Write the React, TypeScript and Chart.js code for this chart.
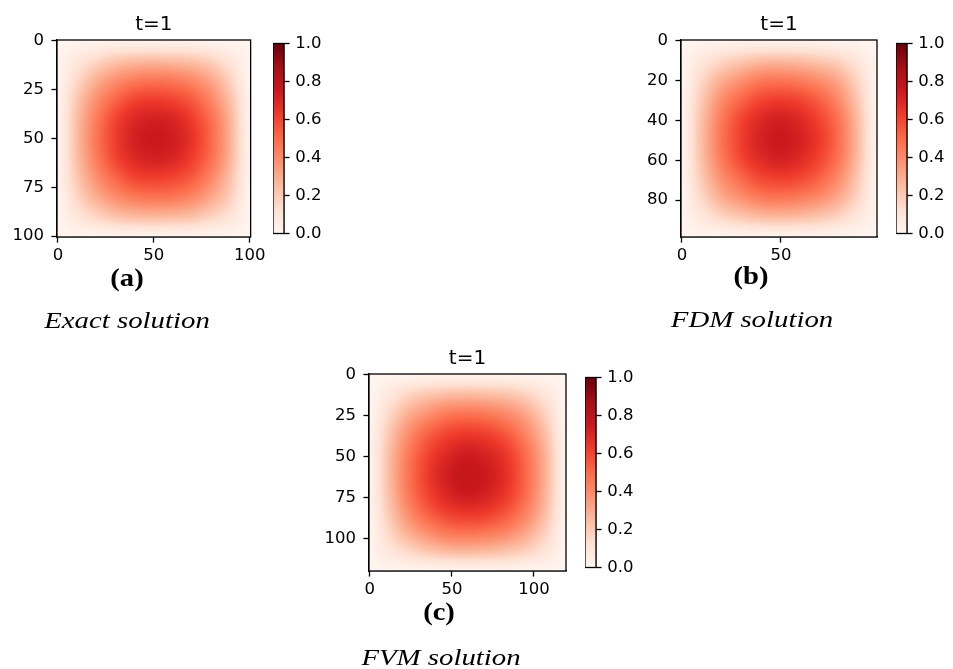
import React, { useEffect, useRef } from 'react';
import { Chart, registerables } from 'chart.js';

Chart.register(...registerables);

// ---------------- data ----------------
const panelTitle = 't=1';
const colorbarRange = [0, 1];
const colorbarTicks = [0, 0.2, 0.4, 0.6, 0.8, 1.0];
const redsStops = ['#fff5f0', '#fee0d2', '#fcbba1', '#fc9272', '#fb6a4a', '#ef3b2c', '#cb181d', '#a50f15', '#67000d'];

// (a) Exact solution
const coordsA = [0, 10, 20, 30, 40, 50, 60, 70, 80, 90, 100];
const extentA = [-0.5, 100.5];
const xTicksA = [0, 50, 100];
const yTicksA = [0, 25, 50, 75, 100];
const fieldA = [
  [0.00, 0.01, 0.01, 0.02, 0.02, 0.02, 0.02, 0.02, 0.01, 0.01, 0.00],
  [0.01, 0.08, 0.15, 0.21, 0.24, 0.25, 0.24, 0.22, 0.17, 0.09, 0.01],
  [0.01, 0.15, 0.28, 0.38, 0.44, 0.46, 0.45, 0.40, 0.31, 0.17, 0.01],
  [0.02, 0.21, 0.38, 0.51, 0.60, 0.62, 0.60, 0.54, 0.41, 0.23, 0.02],
  [0.02, 0.24, 0.44, 0.60, 0.69, 0.72, 0.70, 0.62, 0.48, 0.27, 0.02],
  [0.02, 0.25, 0.46, 0.62, 0.72, 0.75, 0.73, 0.65, 0.50, 0.28, 0.02],
  [0.02, 0.24, 0.44, 0.60, 0.69, 0.72, 0.70, 0.62, 0.48, 0.27, 0.02],
  [0.02, 0.21, 0.38, 0.51, 0.60, 0.62, 0.60, 0.54, 0.41, 0.23, 0.02],
  [0.01, 0.16, 0.29, 0.39, 0.45, 0.47, 0.46, 0.41, 0.31, 0.18, 0.01],
  [0.01, 0.09, 0.16, 0.22, 0.25, 0.26, 0.25, 0.23, 0.17, 0.10, 0.01],
  [0.00, 0.01, 0.01, 0.02, 0.02, 0.02, 0.02, 0.02, 0.01, 0.01, 0.00],
];

// (b) FDM solution
const coordsB = [0, 9.8, 19.6, 29.4, 39.2, 49, 58.8, 68.6, 78.4, 88.2, 98];
const extentB = [-0.5, 98.5];
const xTicksB = [0, 50];
const yTicksB = [0, 20, 40, 60, 80];
const fieldB = [
  [0.00, 0.01, 0.01, 0.02, 0.02, 0.02, 0.02, 0.02, 0.01, 0.01, 0.00],
  [0.01, 0.08, 0.15, 0.20, 0.24, 0.25, 0.24, 0.21, 0.17, 0.09, 0.01],
  [0.01, 0.15, 0.28, 0.37, 0.44, 0.46, 0.44, 0.39, 0.31, 0.17, 0.01],
  [0.02, 0.20, 0.38, 0.50, 0.59, 0.62, 0.60, 0.53, 0.41, 0.22, 0.02],
  [0.02, 0.23, 0.44, 0.59, 0.68, 0.72, 0.69, 0.61, 0.48, 0.26, 0.02],
  [0.02, 0.24, 0.46, 0.61, 0.71, 0.75, 0.72, 0.64, 0.50, 0.27, 0.02],
  [0.02, 0.23, 0.44, 0.59, 0.68, 0.72, 0.69, 0.61, 0.48, 0.26, 0.02],
  [0.02, 0.20, 0.38, 0.50, 0.59, 0.62, 0.60, 0.53, 0.41, 0.22, 0.02],
  [0.01, 0.15, 0.29, 0.38, 0.45, 0.47, 0.45, 0.40, 0.31, 0.17, 0.01],
  [0.01, 0.08, 0.16, 0.21, 0.25, 0.26, 0.25, 0.22, 0.17, 0.09, 0.01],
  [0.00, 0.01, 0.01, 0.02, 0.02, 0.02, 0.02, 0.02, 0.01, 0.01, 0.00],
];

// (c) FVM solution
const coordsC = [0, 11.9, 23.8, 35.7, 47.6, 59.5, 71.4, 83.3, 95.2, 107.1, 119];
const extentC = [-0.5, 119.5];
const xTicksC = [0, 50, 100];
const yTicksC = [0, 25, 50, 75, 100];
const fieldC = [
  [0.00, 0.01, 0.01, 0.02, 0.02, 0.02, 0.02, 0.02, 0.01, 0.01, 0.00],
  [0.01, 0.08, 0.16, 0.21, 0.24, 0.25, 0.24, 0.22, 0.17, 0.09, 0.01],
  [0.01, 0.15, 0.29, 0.38, 0.45, 0.47, 0.45, 0.40, 0.31, 0.17, 0.01],
  [0.02, 0.21, 0.39, 0.52, 0.60, 0.63, 0.61, 0.54, 0.41, 0.23, 0.02],
  [0.02, 0.24, 0.45, 0.60, 0.69, 0.73, 0.70, 0.63, 0.48, 0.27, 0.02],
  [0.02, 0.25, 0.47, 0.63, 0.73, 0.77, 0.74, 0.66, 0.50, 0.28, 0.02],
  [0.02, 0.24, 0.46, 0.61, 0.71, 0.75, 0.72, 0.64, 0.49, 0.27, 0.02],
  [0.02, 0.21, 0.40, 0.54, 0.62, 0.65, 0.63, 0.56, 0.43, 0.24, 0.02],
  [0.01, 0.16, 0.30, 0.40, 0.47, 0.49, 0.47, 0.42, 0.32, 0.18, 0.01],
  [0.01, 0.09, 0.16, 0.22, 0.26, 0.27, 0.26, 0.23, 0.18, 0.10, 0.01],
  [0.00, 0.01, 0.01, 0.02, 0.02, 0.02, 0.02, 0.02, 0.01, 0.01, 0.00],
];

const labelA = '(a)';
const labelB = '(b)';
const labelC = '(c)';
const captionA = 'Exact solution';
const captionB = 'FDM solution';
const captionC = 'FVM solution';

// ---------------- helpers ----------------
const TICK_FONT = { family: '"DejaVu Sans"', size: 16.5 };
const LINE = 1.3;
const TICK_LEN = 5.6;

function hexRgb(h: string) {
  return [parseInt(h.slice(1, 3), 16), parseInt(h.slice(3, 5), 16), parseInt(h.slice(5, 7), 16)];
}
const redsRgb = redsStops.map(hexRgb);
function reds(v: number) {
  const n = redsRgb.length;
  const t = Math.min(1, Math.max(0, v)) * (n - 1);
  const i = Math.min(n - 2, Math.floor(t));
  const f = t - i;
  const a = redsRgb[i], b = redsRgb[i + 1];
  return [a[0] + (b[0] - a[0]) * f, a[1] + (b[1] - a[1]) * f, a[2] + (b[2] - a[2]) * f];
}

// display resampling (like imshow's bicubic interpolation)
function cubic(p0: number, p1: number, p2: number, p3: number, t: number) {
  return 0.5 * (2 * p1 + (-p0 + p2) * t + (2 * p0 - 5 * p1 + 4 * p2 - p3) * t * t + (-p0 + 3 * p1 - 3 * p2 + p3) * t * t * t);
}
function sampleField(field: number[][], fi: number, fj: number) {
  const m = field.length, n = field[0].length;
  const ci = Math.max(0, Math.min(n - 1, fi));
  const cj = Math.max(0, Math.min(m - 1, fj));
  const i1 = Math.min(n - 2, Math.floor(ci));
  const j1 = Math.min(m - 2, Math.floor(cj));
  const ti = ci - i1, tj = cj - j1;
  const cl = (k: number, lim: number) => Math.max(0, Math.min(lim - 1, k));
  const rows: number[] = [];
  for (let dj = -1; dj <= 2; dj++) {
    const row = field[cl(j1 + dj, m)];
    rows.push(cubic(row[cl(i1 - 1, n)], row[i1], row[i1 + 1], row[cl(i1 + 2, n)], ti));
  }
  return cubic(rows[0], rows[1], rows[2], rows[3], tj);
}

function heatmapPlugin(coords: number[], field: number[][]) {
  return {
    id: 'heatmap',
    beforeDatasetsDraw(chart: any) {
      const { ctx, chartArea: a, scales } = chart;
      const xs = scales.x, ys = scales.y;
      const n = coords.length;
      const step = (coords[n - 1] - coords[0]) / (n - 1);
      const x0 = Math.round(a.left), y0 = Math.round(a.top);
      const w = Math.round(a.right) - x0, h = Math.round(a.bottom) - y0;
      const img = ctx.createImageData(w, h);
      for (let py = 0; py < h; py++) {
        const fj = (ys.getValueForPixel(y0 + py + 0.5) - coords[0]) / step;
        for (let px = 0; px < w; px++) {
          const fi = (xs.getValueForPixel(x0 + px + 0.5) - coords[0]) / step;
          const [r, g, b] = reds(sampleField(field, fi, fj));
          const k = (py * w + px) * 4;
          img.data[k] = Math.round(r);
          img.data[k + 1] = Math.round(g);
          img.data[k + 2] = Math.round(b);
          img.data[k + 3] = 255;
        }
      }
      ctx.putImageData(img, x0, y0);
    },
  };
}

function framePlugin(title?: string) {
  return {
    id: 'frame',
    afterDatasetsDraw(chart: any) {
      const { ctx, chartArea: a } = chart;
      ctx.save();
      ctx.strokeStyle = '#000';
      ctx.lineWidth = LINE;
      ctx.strokeRect(a.left, a.top, a.right - a.left, a.bottom - a.top);
      if (title) {
        ctx.fillStyle = '#000';
        ctx.font = '20px "DejaVu Sans"';
        ctx.textAlign = 'center';
        ctx.textBaseline = 'alphabetic';
        ctx.fillText(title, (a.left + a.right) / 2, a.top - 10);
      }
      ctx.restore();
    },
  };
}

function axisStyle(ticks: number[], fmt: (v: number) => string, pad: number) {
  return {
    afterBuildTicks: (s: any) => {
      s.ticks = ticks.map((v) => ({ value: v }));
    },
    grid: { display: true, drawOnChartArea: false, drawTicks: true, tickLength: TICK_LEN, tickWidth: LINE, tickColor: '#000', color: '#000' },
    border: { display: true, color: '#000', width: LINE },
    ticks: { color: '#000', font: TICK_FONT, padding: pad, maxRotation: 0, autoSkip: false, callback: (v: any) => fmt(Number(v)) },
  };
}

// layout constants
const LW = 56; // y-axis box width
const TP = 40; // room above plot for title
const BH = 34; // x-axis box height
const RP = 16; // right room for last x label
const CBW = 46; // colorbar tick label box
const CBP = 12;

type PanelProps = {
  geom: { L: number; T: number; W: number; H: number; cbL: number; cbW: number };
  coords: number[];
  field: number[][];
  extent: number[];
  xTicks: number[];
  yTicks: number[];
};

function Panel({ geom, coords, field, extent, xTicks, yTicks }: PanelProps) {
  const heatRef = useRef<HTMLCanvasElement>(null);
  const cbRef = useRef<HTMLCanvasElement>(null);

  useEffect(() => {
    const heat = new Chart(heatRef.current!, {
      type: 'scatter',
      data: { datasets: [{ data: [], pointRadius: 0 }] },
      options: {
        animation: false,
        responsive: false,
        devicePixelRatio: 1,
        layout: { padding: { top: TP, right: RP, left: 0, bottom: 0 } },
        plugins: { legend: { display: false }, tooltip: { enabled: false }, title: { display: false } },
        scales: {
          x: {
            type: 'linear',
            position: 'bottom',
            min: extent[0],
            max: extent[1],
            afterFit: (s: any) => {
              s.height = BH;
            },
            ...axisStyle(xTicks, (v) => String(v), 3.5),
          },
          y: {
            type: 'linear',
            position: 'left',
            reverse: true,
            min: extent[0],
            max: extent[1],
            afterFit: (s: any) => {
              s.width = LW;
            },
            ...axisStyle(yTicks, (v) => String(v), 7.5),
          },
        },
      } as any,
      plugins: [heatmapPlugin(coords, field), framePlugin(panelTitle)],
    });

    const cb = new Chart(cbRef.current!, {
      type: 'bar',
      data: {
        labels: [''],
        datasets: [
          {
            data: [[colorbarRange[0], colorbarRange[1]]],
            borderWidth: 0,
            categoryPercentage: 1,
            barPercentage: 1,
            backgroundColor: (c: any) => {
              const a = c.chart.chartArea;
              if (!a) return redsStops[0];
              const g = c.chart.ctx.createLinearGradient(0, a.bottom, 0, a.top);
              redsStops.forEach((col, i) => g.addColorStop(i / (redsStops.length - 1), col));
              return g;
            },
          } as any,
        ],
      },
      options: {
        animation: false,
        responsive: false,
        devicePixelRatio: 1,
        layout: { padding: { top: CBP, bottom: CBP, left: 0, right: 0 } },
        plugins: { legend: { display: false }, tooltip: { enabled: false } },
        scales: {
          x: { display: false },
          y: {
            type: 'linear',
            position: 'right',
            min: colorbarRange[0],
            max: colorbarRange[1],
            afterFit: (s: any) => {
              s.width = CBW;
            },
            ...axisStyle(colorbarTicks, (v) => v.toFixed(1), 5.6),
          },
        },
      } as any,
      plugins: [framePlugin()],
    });

    return () => {
      heat.destroy();
      cb.destroy();
    };
  }, []);

  const hw = LW + geom.W + RP;
  const hh = TP + geom.H + BH;
  const cw = geom.cbW + CBW;
  const ch = geom.H + 2 * CBP;
  return (
    <>
      <canvas
        ref={heatRef}
        width={hw}
        height={hh}
        style={{ position: 'absolute', left: geom.L - LW, top: geom.T - TP, width: hw, height: hh }}
      />
      <canvas
        ref={cbRef}
        width={cw}
        height={ch}
        style={{ position: 'absolute', left: geom.cbL, top: geom.T - CBP, width: cw, height: ch }}
      />
    </>
  );
}

function Caption({ text, cx, baseline, bold, italic, size, sx }: { text: string; cx: number; baseline: number; bold?: boolean; italic?: boolean; size: number; sx: number }) {
  return (
    <div
      style={{
        position: 'absolute',
        left: cx,
        top: baseline - 0.8375 * size,
        transform: `translateX(-50%) scaleX(${sx})`,
        fontFamily: '"Liberation Serif", "Times New Roman", serif',
        fontSize: size,
        fontWeight: bold ? 'bold' : 'normal',
        fontStyle: italic ? 'italic' : 'normal',
        lineHeight: 1,
        whiteSpace: 'nowrap',
        color: '#000',
      }}
    >
      {text}
    </div>
  );
}

export default function App() {
  return (
    <div style={{ position: 'absolute', left: 0, top: 0, width: 953, height: 669, background: '#fff', overflow: 'hidden' }}>
      <Panel geom={{ L: 57, T: 40, W: 196, H: 197, cbL: 273, cbW: 11 }} coords={coordsA} field={fieldA} extent={extentA} xTicks={xTicksA} yTicks={yTicksA} />
      <Panel geom={{ L: 681, T: 40, W: 196, H: 197, cbL: 896, cbW: 11 }} coords={coordsB} field={fieldB} extent={extentB} xTicks={xTicksB} yTicks={yTicksB} />
      <Panel geom={{ L: 369, T: 374, W: 197, H: 197, cbL: 585, cbW: 11 }} coords={coordsC} field={fieldC} extent={extentC} xTicks={xTicksC} yTicks={yTicksC} />
      <Caption text={labelA} cx={127} baseline={286.5} bold size={26} sx={1.1} />
      <Caption text={captionA} cx={127} baseline={327.7} italic size={24} sx={1.2} />
      <Caption text={labelB} cx={751} baseline={285} bold size={26} sx={1.1} />
      <Caption text={captionB} cx={752} baseline={327.5} italic size={24} sx={1.2} />
      <Caption text={labelC} cx={439} baseline={621} bold size={26} sx={1.1} />
      <Caption text={captionC} cx={441} baseline={665} italic size={24} sx={1.2} />
    </div>
  );
}
